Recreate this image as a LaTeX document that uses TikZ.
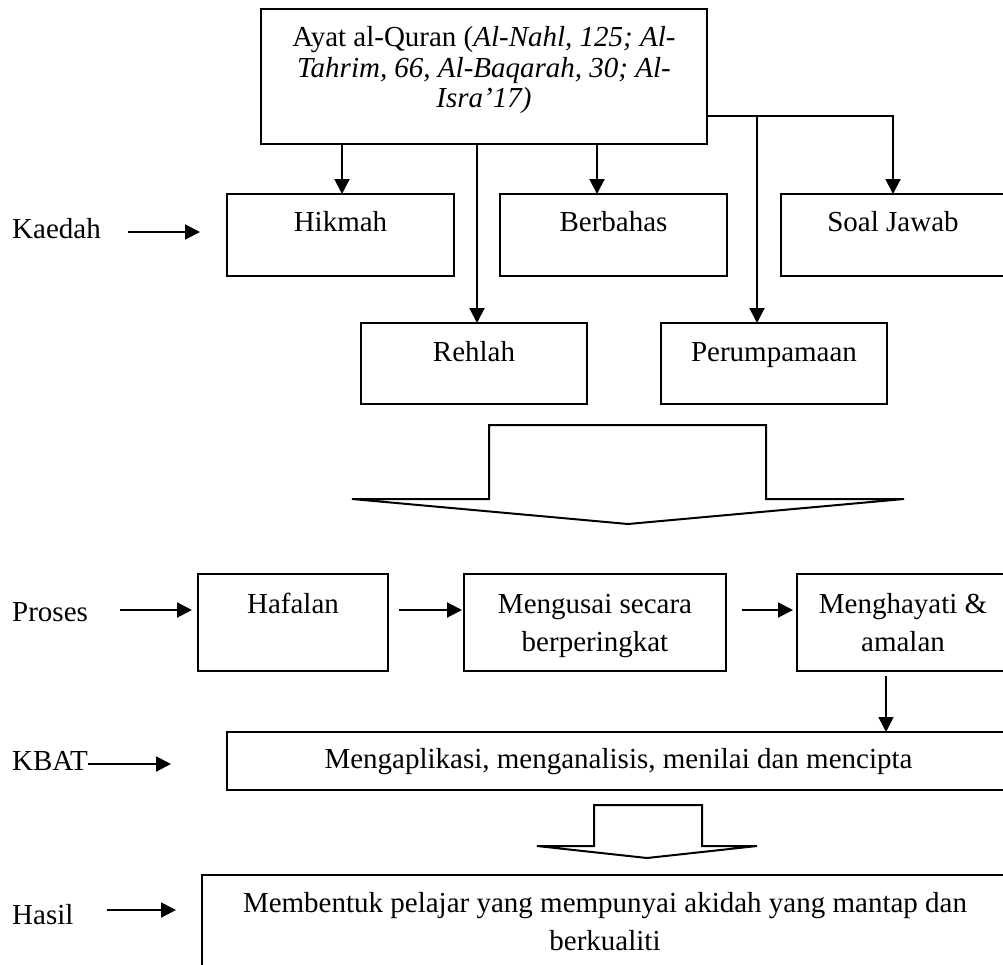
\documentclass[tikz,border=0pt]{standalone}
\usepackage{fontspec}
\setmainfont{Liberation Serif}
\usetikzlibrary{arrows.meta}
\begin{document}
\begin{tikzpicture}[x=1pt,y=-1pt,
  box/.style={draw, line width=2pt, inner sep=0pt, outer sep=0pt, rectangle},
  txt/.style={font=\fontsize{29}{38.5}\selectfont, inner sep=0pt, anchor=base},
  mtxt/.style={txt, align=center},
  arr/.style={line width=2pt, -{Triangle[width=15pt,length=15pt]}},
  blk/.style={draw, line width=2pt, line join=miter}
]
\useasboundingbox (0,0) rectangle (1003,964);
\clip (0,0) rectangle (1003,964);

% top box (text anchored at the baseline of its last line)
\node[box, minimum width=446pt, minimum height=135pt] (ayat) at (484,76.5) {};
\node[mtxt, font=\fontsize{29}{30.5}\selectfont] (ayatT) at (484,107.5)
  {Ayat al-Quran (\textit{Al-Nahl, 125; Al-}\\\textit{Tahrim, 66, Al-Baqarah, 30; Al-}\\\textit{Isra’17)}};

% Kaedah row
\node[txt, anchor=base west] (kaedah) at (12,238) {Kaedah};
\node[box, minimum width=227pt, minimum height=82pt] (hik) at (340.5,235) {};
\node[txt] (hikT) at (340.5,231.7) {Hikmah};
\node[box, minimum width=227pt, minimum height=82pt] (ber) at (613.5,235) {};
\node[txt] (berT) at (613.5,231.7) {Berbahas};
\node[box, minimum width=224pt, minimum height=82pt] (soal) at (893,235) {};
\node[txt] (soalT) at (893,231) {Soal Jawab};
\node[box, minimum width=226pt, minimum height=81pt] (reh) at (474,363.5) {};
\node[txt] (rehT) at (474,361) {Rehlah};
\node[box, minimum width=226pt, minimum height=81pt] (peru) at (774,363.5) {};
\node[txt] (peruT) at (774,361) {Perumpamaan};

\draw[arr, shorten <=27pt, shorten >=27pt] (kaedah.east |- 0,232) -- (hik.west |- 0,232);
\draw[arr] (ayat.south -| 342,0) -- (hik.north -| 342,0);
\draw[arr] (ayat.south -| 477,0) -- (reh.north -| 477,0);
\draw[arr] (ayat.south -| 597,0) -- (ber.north -| 597,0);
\draw[arr] ([yshift=-39.5pt]ayat.east) -| (soal.north);
\coordinate (j) at (757,116);
\draw[arr] (j) -- (peru.north -| j);

% big block arrow
\draw[blk] (489,499) -- (489,425) -- (766,425) -- (766,499) -- (904,499) -- (628,524) -- (352,499) -- cycle;

% Proses row
\node[txt, anchor=base west] (proses) at (12,621) {Proses};
\node[box, minimum width=190pt, minimum height=97pt] (haf) at (293,622.5) {};
\node[txt] (hafT) at (293,613) {Hafalan};
\node[box, minimum width=262pt, minimum height=97pt] (mgs) at (595,622.5) {};
\node[mtxt] (mgsT) at (595,651.5) {Mengusai secara\\berperingkat};
\node[box, minimum width=212pt, minimum height=97pt] (mgh) at (903,622.5) {};
\node[mtxt] (mghT) at (903,651.5) {Menghayati \&\\amalan};

\draw[arr, shorten <=32pt, shorten >=6pt] (proses.east |- 0,610) -- (haf.west |- 0,610);
\draw[arr, shorten <=11pt, shorten >=2pt] (haf.east |- 0,610) -- (mgs.west |- 0,610);
\draw[arr, shorten <=16pt, shorten >=4pt] (mgs.east |- 0,610) -- (mgh.west |- 0,610);

% KBAT row
\node[txt, anchor=base west] (kbatL) at (12,770) {KBAT};
\node[box, minimum width=783pt, minimum height=58pt] (kbat) at (618.5,761) {};
\node[txt] (kbatT) at (618.5,768) {Mengaplikasi, menganalisis, menilai dan mencipta};
\draw[arr, shorten >=56pt] (kbatL.east |- 0,764) -- (kbat.west |- 0,764);
\draw[arr, line width=1.5pt, shorten <=5pt] (mgh.south -| 886,0) -- (kbat.north -| 886,0);

% small block arrow
\draw[blk] (594,846) -- (594,805) -- (702,805) -- (702,846) -- (757,846) -- (647,858) -- (537,846) -- cycle;

% Hasil row
\node[txt, anchor=base west] (hasil) at (12,924) {Hasil};
\node[box, minimum width=806pt, minimum height=115pt] (hasilB) at (605,932.5) {};
\node[mtxt] (hasilT) at (605,950.5) {Membentuk pelajar yang mempunyai akidah yang mantap dan\\berkualiti};
\draw[arr, shorten <=33pt, shorten >=26pt] (hasil.east |- 0,910) -- (hasilB.west |- 0,910);
\end{tikzpicture}
\end{document}
